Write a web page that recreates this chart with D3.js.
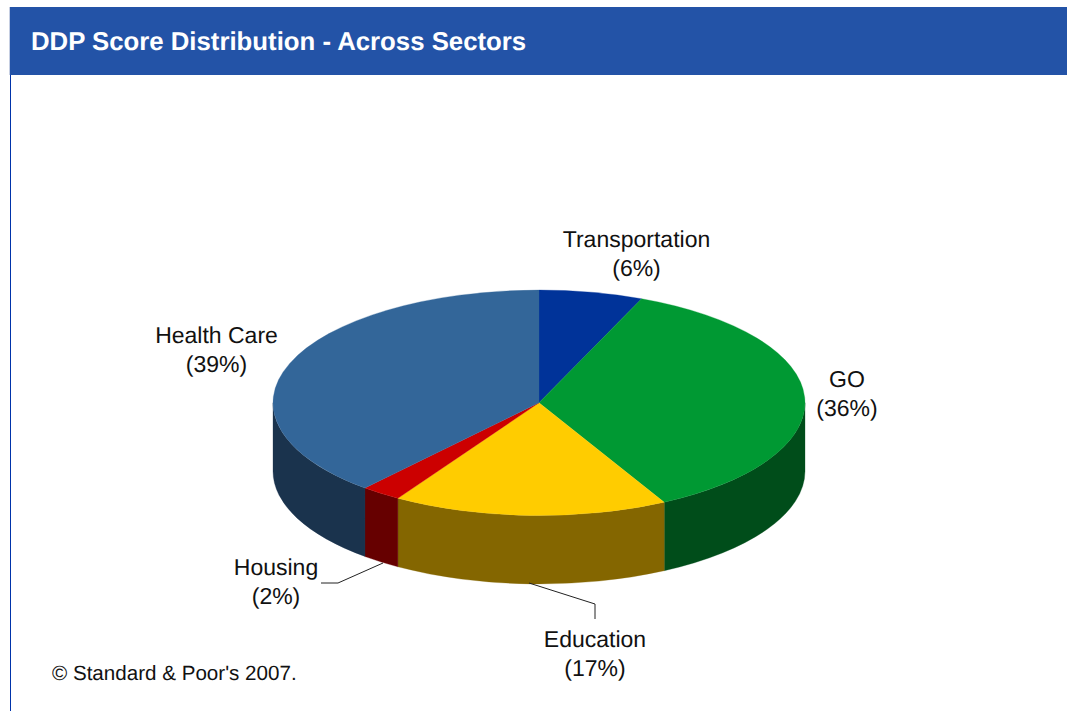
<!DOCTYPE html>
<html>
<head>
<meta charset="utf-8">
<script src="https://cdn.jsdelivr.net/npm/d3@7"></script>
<style>
  html, body { margin: 0; padding: 0; background: #fff; }
  text { font-family: "Liberation Sans", Arial, sans-serif; fill: #111; text-rendering: geometricPrecision; }
</style>
</head>
<body>
<svg id="chart" width="1067" height="711"></svg>
<script>
const sectors = ["Transportation", "GO", "Education", "Housing", "Health Care"];
const shares = [6.3, 35.9, 16.7, 2.45, 38.65];
const topColors = ["#003399", "#009933", "#FFCC00", "#CC0000", "#336699"];
const sideColors = ["#001A4D", "#004D1A", "#846600", "#660000", "#1A334D"];

const size = { width: 1067, height: 711 };
const pieBox = { left: 273, right: 805, top: 290, bottom: 515.5, depth: 68.5 };

// label centres, line one baseline, and leader lines
const labelAt = {
  "Transportation": { x: 636.5, y: 247 },
  "GO": { x: 847, y: 387 },
  "Education": { x: 595, y: 647 },
  "Housing": { x: 276, y: 575 },
  "Health Care": { x: 216.5, y: 343 },
};
const leaders = {
  "Education": [[529, 583], [595, 604], [595, 619]],
  "Housing": [[383, 563], [338, 583], [321, 583]],
};

const svg = d3.select("#chart");
const rows = sectors.map((name, i) => ({ name, share: shares[i], top: topColors[i], side: sideColors[i] }));

// header band and left rule
svg.append("rect").attr("x", 10).attr("y", 7).attr("width", size.width - 10).attr("height", 68).attr("fill", "#2353A7");
svg.append("rect").attr("x", 9.5).attr("y", 7).attr("width", 0.5).attr("height", 68).attr("fill", "#8a9cc4");
svg.append("rect").attr("x", 10).attr("y", 75).attr("width", 1).attr("height", size.height - 75).attr("fill", "#0033AA");
svg.append("text")
  .attr("x", 31).attr("y", 50)
  .style("font-size", "25.76px").style("font-weight", "bold").style("fill", "#fff")
  .text("DDP Score Distribution - Across Sectors");

const xScale = d3.scaleLinear().domain([-1, 1]).range([pieBox.left, pieBox.right]);
const yScale = d3.scaleLinear().domain([-1, 1]).range([pieBox.top, pieBox.bottom]);
const rx = (pieBox.right - pieBox.left) / 2;
const ry = (pieBox.bottom - pieBox.top) / 2;

const pieGen = d3.pie().value((d) => d.share).sort(null);
const slices = pieGen(rows);

const px = (a) => xScale(Math.sin(a));
const py = (a) => yScale(-Math.cos(a));

const topPath = (s) => {
  const large = s.endAngle - s.startAngle > Math.PI ? 1 : 0;
  return `M${xScale(0)},${yScale(0)}L${px(s.startAngle)},${py(s.startAngle)}` +
    `A${rx},${ry} 0 ${large} 1 ${px(s.endAngle)},${py(s.endAngle)}Z`;
};

// only the front half of the rim shows
const sidePath = (s) => {
  const a0 = Math.max(s.startAngle, Math.PI / 2);
  const a1 = Math.min(s.endAngle, (3 * Math.PI) / 2);
  if (a1 <= a0) return null;
  const d = pieBox.depth;
  return `M${px(a0)},${py(a0)}A${rx},${ry} 0 0 1 ${px(a1)},${py(a1)}` +
    `L${px(a1)},${py(a1) + d}A${rx},${ry} 0 0 0 ${px(a0)},${py(a0) + d}Z`;
};

svg.selectAll(".side")
  .data(slices.filter((s) => sidePath(s)))
  .enter()
  .append("path")
  .classed("side", true)
  .attr("d", sidePath)
  .attr("fill", (s) => s.data.side)
  .attr("stroke", (s) => s.data.side)
  .attr("stroke-width", 0.3);

svg.selectAll(".top")
  .data(slices)
  .enter()
  .append("path")
  .classed("top", true)
  .attr("d", topPath)
  .attr("fill", (s) => s.data.top)
  .attr("stroke", (s) => s.data.top)
  .attr("stroke-width", 0.3);

const lineGen = d3.line();
svg.selectAll(".leader")
  .data(Object.values(leaders))
  .enter()
  .append("path")
  .classed("leader", true)
  .attr("d", lineGen)
  .attr("fill", "none")
  .attr("stroke", "#222")
  .attr("stroke-width", 1);

const pct = d3.format(".0f");
const labels = svg.selectAll(".label")
  .data(rows)
  .enter()
  .append("text")
  .classed("label", true)
  .attr("text-anchor", "middle")
  .style("font-size", "23px");
labels.append("tspan")
  .attr("x", (d) => labelAt[d.name].x)
  .attr("y", (d) => labelAt[d.name].y)
  .text((d) => d.name);
labels.append("tspan")
  .attr("x", (d) => labelAt[d.name].x)
  .attr("y", (d) => labelAt[d.name].y + 29)
  .text((d) => `(${pct(d.share)}%)`);

svg.append("text")
  .attr("x", 52).attr("y", 680)
  .style("font-size", "20.6px")
  .text("© Standard & Poor's 2007.");
</script>
</body>
</html>
